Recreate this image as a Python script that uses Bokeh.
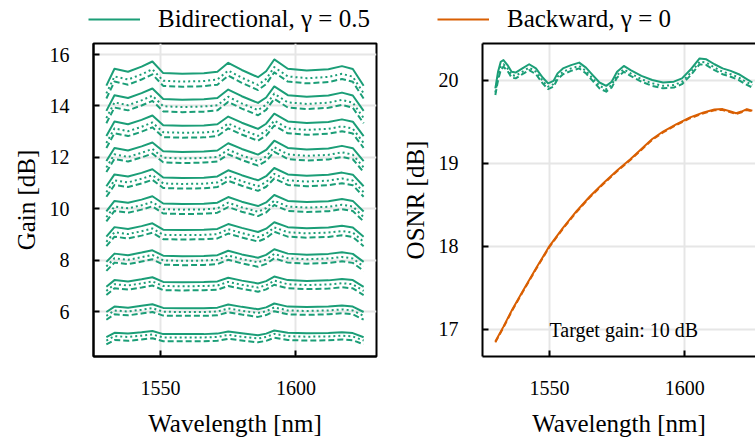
from bokeh.plotting import figure
from bokeh.models import Range1d, FixedTicker, Label, Legend, LegendItem, LinearAxis
from bokeh.layouts import column, row
from bokeh.embed import file_html
from bokeh.resources import INLINE

GREEN = "#1b9e77"
ORANGE = "#d95f02"
FONT = "Liberation Serif"

# ---------------- data ----------------
wavelength = [1530, 1533, 1538, 1543, 1547, 1551, 1558, 1566, 1571, 1575,
              1580, 1586, 1589, 1592, 1597, 1604, 1612, 1617, 1621, 1625]

target_gains = [5, 6, 7, 8, 9, 10, 11, 12, 13, 14, 15]

gain_solid = [
    [5.01, 5.18, 5.15, 5.20, 5.25, 5.13, 5.13, 5.13, 5.15, 5.23, 5.16, 5.09, 5.15, 5.27, 5.18, 5.16, 5.17, 5.20, 5.17, 5.01],
    [5.99, 6.20, 6.16, 6.23, 6.29, 6.15, 6.14, 6.14, 6.16, 6.28, 6.19, 6.10, 6.17, 6.32, 6.20, 6.18, 6.20, 6.24, 6.20, 5.99],
    [6.97, 7.23, 7.18, 7.26, 7.34, 7.16, 7.15, 7.16, 7.18, 7.32, 7.21, 7.10, 7.19, 7.37, 7.23, 7.20, 7.22, 7.27, 7.23, 6.97],
    [7.94, 8.26, 8.20, 8.30, 8.39, 8.18, 8.16, 8.17, 8.20, 8.37, 8.23, 8.10, 8.21, 8.43, 8.26, 8.22, 8.25, 8.31, 8.25, 7.94],
    [8.92, 9.29, 9.22, 9.33, 9.44, 9.19, 9.18, 9.19, 9.22, 9.41, 9.26, 9.10, 9.23, 9.48, 9.29, 9.25, 9.28, 9.34, 9.28, 8.92],
    [9.90, 10.31, 10.24, 10.36, 10.49, 10.21, 10.19, 10.20, 10.24, 10.46, 10.28, 10.11, 10.25, 10.54, 10.31, 10.27, 10.30, 10.38, 10.31, 9.90],
    [10.88, 11.34, 11.26, 11.40, 11.54, 11.22, 11.20, 11.21, 11.26, 11.50, 11.31, 11.11, 11.27, 11.59, 11.34, 11.29, 11.33, 11.41, 11.33, 10.88],
    [11.86, 12.37, 12.27, 12.43, 12.58, 12.24, 12.21, 12.23, 12.27, 12.55, 12.33, 12.11, 12.29, 12.65, 12.37, 12.31, 12.35, 12.45, 12.36, 11.86],
    [12.83, 13.40, 13.29, 13.46, 13.63, 13.25, 13.23, 13.24, 13.29, 13.59, 13.35, 13.11, 13.31, 13.70, 13.40, 13.34, 13.38, 13.48, 13.39, 12.83],
    [13.81, 14.42, 14.31, 14.50, 14.68, 14.27, 14.24, 14.26, 14.31, 14.64, 14.38, 14.12, 14.33, 14.76, 14.42, 14.36, 14.41, 14.52, 14.41, 13.81],
    [14.79, 15.45, 15.33, 15.53, 15.73, 15.28, 15.25, 15.27, 15.33, 15.68, 15.40, 15.12, 15.35, 15.81, 15.45, 15.38, 15.43, 15.55, 15.44, 14.79],
]

gain_dotted = [
    [4.88, 5.05, 5.02, 5.07, 5.12, 5.00, 5.00, 5.00, 5.02, 5.10, 5.03, 4.96, 5.02, 5.14, 5.05, 5.03, 5.04, 5.07, 5.04, 4.88],
    [5.84, 6.05, 6.01, 6.08, 6.14, 6.00, 5.99, 5.99, 6.01, 6.13, 6.04, 5.95, 6.02, 6.17, 6.05, 6.03, 6.05, 6.09, 6.05, 5.84],
    [6.81, 7.07, 7.02, 7.10, 7.18, 7.00, 6.99, 7.00, 7.02, 7.16, 7.05, 6.94, 7.03, 7.21, 7.07, 7.04, 7.06, 7.11, 7.07, 6.81],
    [7.76, 8.08, 8.02, 8.12, 8.21, 8.00, 7.98, 7.99, 8.02, 8.19, 8.05, 7.92, 8.03, 8.25, 8.08, 8.04, 8.07, 8.13, 8.07, 7.76],
    [8.72, 9.09, 9.02, 9.13, 9.24, 8.99, 8.98, 8.99, 9.02, 9.21, 9.06, 8.90, 9.03, 9.28, 9.09, 9.05, 9.08, 9.14, 9.08, 8.72],
    [9.68, 10.09, 10.02, 10.14, 10.27, 9.99, 9.97, 9.98, 10.02, 10.24, 10.06, 9.89, 10.03, 10.32, 10.09, 10.05, 10.08, 10.16, 10.09, 9.68],
    [10.65, 11.11, 11.03, 11.17, 11.31, 10.99, 10.97, 10.98, 11.03, 11.27, 11.08, 10.88, 11.04, 11.36, 11.11, 11.06, 11.10, 11.18, 11.10, 10.65],
    [11.61, 12.12, 12.02, 12.18, 12.33, 11.99, 11.96, 11.98, 12.02, 12.30, 12.08, 11.86, 12.04, 12.40, 12.12, 12.06, 12.10, 12.20, 12.11, 11.61],
    [12.56, 13.13, 13.02, 13.19, 13.36, 12.98, 12.96, 12.97, 13.02, 13.32, 13.08, 12.84, 13.04, 13.43, 13.13, 13.07, 13.11, 13.21, 13.12, 12.56],
    [13.53, 14.14, 14.03, 14.22, 14.40, 13.99, 13.96, 13.98, 14.03, 14.36, 14.10, 13.84, 14.05, 14.48, 14.14, 14.08, 14.13, 14.24, 14.13, 13.53],
    [14.49, 15.15, 15.03, 15.23, 15.43, 14.98, 14.95, 14.97, 15.03, 15.38, 15.10, 14.82, 15.05, 15.51, 15.15, 15.08, 15.13, 15.25, 15.14, 14.49],
]

gain_dashed = [
    [4.73, 4.90, 4.87, 4.92, 4.97, 4.85, 4.85, 4.85, 4.87, 4.95, 4.88, 4.81, 4.87, 4.99, 4.90, 4.88, 4.89, 4.92, 4.89, 4.73],
    [5.69, 5.90, 5.86, 5.93, 5.99, 5.85, 5.84, 5.84, 5.86, 5.98, 5.89, 5.80, 5.87, 6.02, 5.90, 5.88, 5.90, 5.94, 5.90, 5.69],
    [6.65, 6.91, 6.86, 6.94, 7.02, 6.84, 6.83, 6.84, 6.86, 7.00, 6.89, 6.78, 6.87, 7.05, 6.91, 6.88, 6.90, 6.95, 6.91, 6.65],
    [7.59, 7.91, 7.85, 7.95, 8.04, 7.83, 7.81, 7.82, 7.85, 8.02, 7.88, 7.75, 7.86, 8.08, 7.91, 7.87, 7.90, 7.96, 7.90, 7.59],
    [8.55, 8.92, 8.85, 8.96, 9.07, 8.82, 8.81, 8.82, 8.85, 9.04, 8.89, 8.73, 8.86, 9.11, 8.92, 8.88, 8.91, 8.97, 8.91, 8.55],
    [9.51, 9.92, 9.85, 9.97, 10.10, 9.82, 9.80, 9.81, 9.85, 10.07, 9.89, 9.72, 9.86, 10.15, 9.92, 9.88, 9.91, 9.99, 9.92, 9.51],
    [10.47, 10.93, 10.85, 10.99, 11.13, 10.81, 10.79, 10.80, 10.85, 11.09, 10.90, 10.70, 10.86, 11.18, 10.93, 10.88, 10.92, 11.00, 10.92, 10.47],
    [11.43, 11.94, 11.84, 12.00, 12.15, 11.81, 11.78, 11.80, 11.84, 12.12, 11.90, 11.68, 11.86, 12.22, 11.94, 11.88, 11.92, 12.02, 11.93, 11.43],
    [12.37, 12.94, 12.83, 13.00, 13.17, 12.79, 12.77, 12.78, 12.83, 13.13, 12.89, 12.65, 12.85, 13.24, 12.94, 12.88, 12.92, 13.02, 12.93, 12.37],
    [13.33, 13.94, 13.83, 14.02, 14.20, 13.79, 13.76, 13.78, 13.83, 14.16, 13.90, 13.64, 13.85, 14.28, 13.94, 13.88, 13.93, 14.04, 13.93, 13.33],
    [14.29, 14.95, 14.83, 15.03, 15.23, 14.78, 14.75, 14.77, 14.83, 15.18, 14.90, 14.62, 14.85, 15.31, 14.95, 14.88, 14.93, 15.05, 14.94, 14.29],
]

osnr_bi_wl = [1530, 1531, 1532, 1533, 1534.5, 1536, 1537.5, 1540, 1542.5, 1545,
              1547.5, 1549.5, 1551.5, 1553, 1555, 1558, 1561, 1563.5, 1566, 1568.5,
              1571, 1573, 1575, 1577.5, 1580, 1584, 1588, 1592, 1596, 1599,
              1602, 1605.5, 1608, 1611, 1614, 1617, 1620, 1622.5, 1625]
osnr_bi_solid = [19.90, 20.10, 20.22, 20.24, 20.18, 20.10, 20.09, 20.14, 20.19, 20.14,
                 20.03, 19.96, 19.99, 20.08, 20.14, 20.18, 20.21, 20.15, 20.06, 19.97,
                 19.93, 19.98, 20.10, 20.17, 20.12, 20.05, 20.00, 19.97, 19.98, 20.02,
                 20.12, 20.26, 20.25, 20.19, 20.14, 20.11, 20.07, 20.02, 19.97]
osnr_bi_dotted = [19.85, 20.04, 20.16, 20.19, 20.14, 20.06, 20.05, 20.10, 20.15, 20.10,
                  19.99, 19.92, 19.95, 20.04, 20.10, 20.14, 20.17, 20.11, 20.02, 19.93,
                  19.89, 19.94, 20.06, 20.13, 20.08, 20.01, 19.96, 19.93, 19.94, 19.98,
                  20.08, 20.22, 20.21, 20.15, 20.10, 20.07, 20.03, 19.98, 19.94]
osnr_bi_dashed = [19.82, 20.00, 20.12, 20.16, 20.11, 20.03, 20.02, 20.07, 20.12, 20.07,
                  19.96, 19.89, 19.92, 20.01, 20.07, 20.11, 20.14, 20.08, 19.99, 19.90,
                  19.86, 19.91, 20.03, 20.10, 20.05, 19.98, 19.93, 19.90, 19.91, 19.95,
                  20.05, 20.19, 20.18, 20.12, 20.07, 20.04, 20.00, 19.95, 19.91]

osnr_bw_wl = [1530, 1533, 1536, 1540, 1545, 1550, 1555, 1560, 1565, 1570,
              1575, 1580, 1585, 1588, 1592, 1597, 1602, 1607, 1611, 1614,
              1617, 1619, 1621, 1623, 1625]
osnr_bw_solid = [16.85, 17.03, 17.22, 17.45, 17.73, 18.00, 18.22, 18.42, 18.60, 18.76,
                 18.91, 19.05, 19.20, 19.29, 19.38, 19.47, 19.55, 19.61, 19.645, 19.65,
                 19.62, 19.60, 19.62, 19.65, 19.63]
osnr_bw_dashed = [16.84, 17.02, 17.21, 17.44, 17.72, 17.99, 18.21, 18.41, 18.59, 18.75,
                  18.90, 19.04, 19.19, 19.28, 19.37, 19.46, 19.54, 19.60, 19.635, 19.64,
                  19.61, 19.59, 19.61, 19.64, 19.62]

x_ticks = [1550, 1600]
gain_ticks = [6, 8, 10, 12, 14, 16]
osnr_ticks = [17, 18, 19, 20]

# ---------------- layout ----------------
LEG_H = 33
ROW_H = 441 - LEG_H
W1 = 390
W2 = 755 - W1


def style_axis(ax, standoff, label_standoff):
    ax.axis_line_width = 2
    ax.axis_line_color = "black"
    ax.major_tick_in = 6
    ax.major_tick_out = 0
    ax.major_tick_line_width = 2
    ax.major_tick_line_color = "black"
    ax.minor_tick_line_color = None
    ax.major_label_text_font = FONT
    ax.major_label_text_font_size = "20px"
    ax.major_label_text_color = "black"
    ax.major_label_standoff = standoff
    ax.axis_label_text_font = FONT
    ax.axis_label_text_font_size = "25px"
    ax.axis_label_text_font_style = "normal"
    ax.axis_label_text_color = "black"
    ax.axis_label_standoff = label_standoff


def style_fig(p):
    p.xgrid.grid_line_color = "#e6e6e6"
    p.ygrid.grid_line_color = "#e6e6e6"
    p.xgrid.grid_line_width = 2
    p.ygrid.grid_line_width = 2
    p.background_fill_color = "white"
    p.border_fill_color = "white"


# Left: gain
p1 = figure(width=W1, height=ROW_H, output_backend="svg", toolbar_location=None,
            x_range=Range1d(1525.25, 1629.75), y_range=Range1d(4.26, 16.43),
            min_border_left=93, min_border_right=W1 - 376,
            min_border_top=10, min_border_bottom=85)
style_fig(p1)
p1.outline_line_color = "black"
p1.outline_line_width = 2
p1.outline_line_alpha = 1
p1.xaxis.ticker = FixedTicker(ticks=x_ticks)
p1.yaxis.ticker = FixedTicker(ticks=gain_ticks)
p1.xaxis.axis_label = "Wavelength [nm]"
p1.yaxis.axis_label = "Gain [dB]"
style_axis(p1.xaxis[0], 24, 12)
style_axis(p1.yaxis[0], 24, 7)

for i in range(len(target_gains)):
    p1.line(wavelength, gain_solid[i], line_color=GREEN, line_width=2, line_join="round")
    p1.line(wavelength, gain_dotted[i], line_color=GREEN, line_width=2, line_dash="2 3", line_join="round")
    p1.line(wavelength, gain_dashed[i], line_color=GREEN, line_width=2, line_dash="6 3", line_join="round")

# Right: OSNR
p2 = figure(width=W2, height=ROW_H, output_backend="svg", toolbar_location=None,
            x_range=Range1d(1525.25, 1525.25 + (755 - 481.7) / 2.708),
            y_range=Range1d(16.67, 20.44),
            min_border_left=int(round(481.7 - W1)), min_border_right=0,
            min_border_top=10, min_border_bottom=85)
style_fig(p2)
p2.outline_line_color = None
p2.xaxis.ticker = FixedTicker(ticks=x_ticks)
p2.yaxis.ticker = FixedTicker(ticks=osnr_ticks)
p2.xaxis.axis_label = "Wavelength [nm]"
p2.yaxis.axis_label = "OSNR [dB]"
style_axis(p2.xaxis[0], 24, 12)
style_axis(p2.yaxis[0], 24, 7)
top_axis = LinearAxis(ticker=FixedTicker(ticks=[]), axis_line_width=2,
                      axis_line_color="black", major_tick_line_color=None,
                      minor_tick_line_color=None, major_label_text_font_size="0px",
                      major_tick_in=0, major_tick_out=0, major_label_standoff=0)
p2.add_layout(top_axis, "above")

p2.line(osnr_bi_wl, osnr_bi_solid, line_color=GREEN, line_width=2, line_join="round")
p2.line(osnr_bi_wl, osnr_bi_dotted, line_color=GREEN, line_width=2, line_dash="2 3", line_join="round")
p2.line(osnr_bi_wl, osnr_bi_dashed, line_color=GREEN, line_width=2, line_dash="6 3", line_join="round")
p2.line(osnr_bw_wl, osnr_bw_solid, line_color=ORANGE, line_width=2, line_join="round")
p2.line(osnr_bw_wl, osnr_bw_dashed, line_color=ORANGE, line_width=2, line_dash="6 3", line_join="round")

p2.add_layout(Label(x=1550, y=16.99, text="Target gain: 10 dB", text_baseline="alphabetic",
                    text_align="left", text_font=FONT, text_font_size="20px",
                    text_color="black"))

# Legend strip
p0 = figure(width=755, height=LEG_H, output_backend="svg", toolbar_location=None,
            x_range=Range1d(0, 1), y_range=Range1d(0, 1),
            min_border_left=0, min_border_right=0, min_border_top=0, min_border_bottom=0,
            x_axis_type=None, y_axis_type=None)
p0.grid.visible = False
p0.outline_line_color = None
r_g = p0.line([5, 6], [5, 6], line_color=GREEN, line_width=2)
r_o = p0.line([5, 6], [5, 6], line_color=ORANGE, line_width=2)
for rend, lab, xpos in [(r_g, "Bidirectional, γ = 0.5", 88), (r_o, "Backward, γ = 0", 437)]:
    leg = Legend(items=[LegendItem(label=lab, renderers=[rend])], location=(xpos, 0),
                 padding=0, margin=0, border_line_color=None, background_fill_alpha=0,
                 glyph_width=52, glyph_height=20, label_standoff=18,
                 label_text_font=FONT, label_text_font_size="25px", label_text_color="black")
    p0.add_layout(leg)

layout = column(p0, row(p1, p2))
open("out.html", "w").write(file_html(layout, INLINE))
